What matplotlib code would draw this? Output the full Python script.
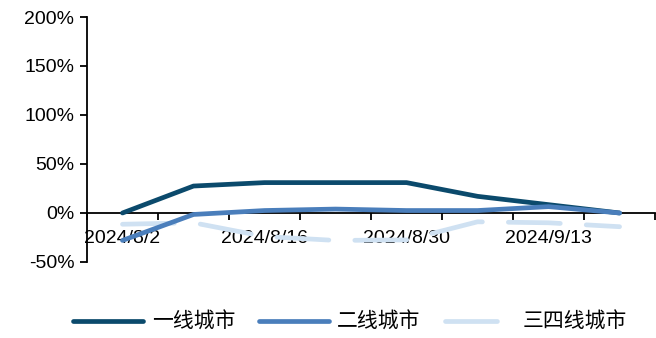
import numpy as np
import matplotlib.pyplot as plt
from matplotlib.ticker import FuncFormatter

plt.rcParams['font.family'] = ['Liberation Sans', 'Noto Sans CJK SC', 'DejaVu Sans']

dates = ['2024/8/2', '2024/8/9', '2024/8/16', '2024/8/23',
         '2024/8/30', '2024/9/6', '2024/9/13', '2024/9/20']
tier1 = [0, 27.5, 31, 31, 31, 17, 8.5, 0]
tier2 = [-28, -1.5, 2.5, 4, 2.5, 2.5, 6.5, 0]
tier34 = [-11.5, -10, -24, -28, -27.5, -9, -10, -14]

c1 = '#0B4A6C'
c2 = '#4A7EBB'
c3 = '#CFE1F2'

fig = plt.figure(figsize=(6.56, 3.38), dpi=100)
ax = fig.add_axes([0.1326, 0.2249, 0.866, 0.7248])

x = np.arange(len(dates))
ax.plot(x, tier1, color=c1, lw=3.4, solid_capstyle='round', label='一线城市', zorder=3)
ax.plot(x, tier2, color=c2, lw=3.4, solid_capstyle='round', label='二线城市', zorder=3)
ax.plot(x, tier34, color=c3, lw=3.4, dashes=(11, 5.5), dash_capstyle='round',
        label='三四线城市', zorder=2)

ax.set_xlim(-0.5, len(dates) - 0.5)
ax.set_ylim(-50, 200)
ax.set_yticks(np.arange(-50, 201, 50))
ax.yaxis.set_major_formatter(FuncFormatter(lambda v, p: f'{v:.0f}%'))

for s in ['top', 'right']:
    ax.spines[s].set_visible(False)
ax.spines['bottom'].set_position(('data', 0))
ax.spines['left'].set_linewidth(1.3)
ax.spines['bottom'].set_linewidth(1.3)

# 主刻度放在类别之间，标签放在次刻度上
ax.set_xticks(np.arange(-0.5, len(dates), 1))
ax.set_xticklabels([])
ax.tick_params(axis='x', which='major', direction='out', length=5, width=1.3)
ax.set_xticks(x[::2], minor=True)
ax.set_xticklabels(dates[::2], minor=True)
ax.tick_params(axis='x', which='minor', length=0, pad=12, labelsize=14)
ax.tick_params(axis='y', direction='out', length=5, width=1.3, labelsize=14, pad=4)

fig.legend(loc='center', bbox_to_anchor=(0.534, 0.047),
           ncol=3, frameon=False, handlelength=3.35, columnspacing=1.15,
           handletextpad=0.4, prop={'family': 'Noto Sans CJK SC', 'size': 15})

fig.savefig('out.png', dpi=100)
